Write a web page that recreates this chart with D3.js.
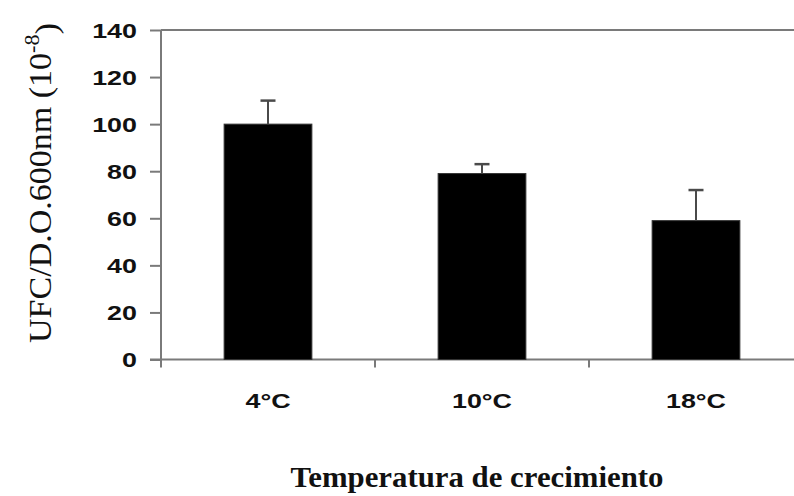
<!DOCTYPE html>
<html>
<head>
<meta charset="utf-8">
<script src="https://cdn.jsdelivr.net/npm/d3@7"></script>
<style>
  html, body { margin: 0; padding: 0; background: #fff; }
  svg { display: block; }
</style>
</head>
<body>
<svg id="chart" width="794" height="496"></svg>
<script>
// Colony counts per optical density at each growth temperature
const categories = ["4°C", "10°C", "18°C"];
const means = [100, 79, 59];
const errors = [10, 4, 13];
const yTicks = [0, 20, 40, 60, 80, 100, 120, 140];

const svg = d3.select("#chart");
const plotLeft = 161, plotRight = 803, plotTop = 30, plotBottom = 359.5;

const x = d3.scaleBand().domain(categories).range([plotLeft, plotRight]).padding(0);
const y = d3.scaleLinear().domain([0, 140]).range([plotBottom, plotTop]);

const axisColor = "#7a7a7a";
const textColor = "#111";
const stretch = 1.28;
const barWidth = x.bandwidth() * 0.41;

// plot frame (top edge)
svg.append("line")
  .attr("x1", plotLeft).attr("x2", plotRight)
  .attr("y1", y(140)).attr("y2", y(140))
  .attr("stroke", axisColor).attr("stroke-width", 2);

// y axis
const yAxis = svg.append("g")
  .attr("transform", `translate(${plotLeft},0)`)
  .call(d3.axisLeft(y).tickValues(yTicks).tickSize(11).tickSizeOuter(0).tickPadding(0));
yAxis.select(".domain").attr("stroke", axisColor).attr("stroke-width", 2)
  .attr("d", `M0,${y(140)}V${plotBottom + 8}`);
yAxis.selectAll(".tick line").attr("stroke", axisColor).attr("stroke-width", 2);
yAxis.selectAll(".tick text")
  .attr("x", 0).attr("dy", "0.35em")
  .attr("transform", `translate(-24,0) scale(${stretch},1)`)
  .attr("fill", textColor)
  .style("font-family", "'Liberation Sans', Arial, sans-serif")
  .style("font-weight", "bold").style("font-size", "21px");

// x axis: baseline, boundary ticks, centred labels
svg.append("line")
  .attr("x1", plotLeft - 11).attr("x2", plotRight)
  .attr("y1", plotBottom).attr("y2", plotBottom)
  .attr("stroke", axisColor).attr("stroke-width", 2);
const boundaries = categories.slice(1).map(c => x(c));
svg.selectAll("line.xtick").data(boundaries).enter().append("line")
  .attr("class", "xtick")
  .attr("x1", d => d).attr("x2", d => d)
  .attr("y1", plotBottom).attr("y2", plotBottom + 8)
  .attr("stroke", axisColor).attr("stroke-width", 2);

const xAxis = svg.append("g")
  .attr("transform", `translate(0,${plotBottom})`)
  .call(d3.axisBottom(x).tickSize(0).tickPadding(0));
xAxis.select(".domain").remove();
xAxis.selectAll(".tick text")
  .attr("y", 0).attr("dy", 0)
  .attr("transform", `translate(0,48.5) scale(${stretch},1)`)
  .attr("fill", textColor)
  .style("font-family", "'Liberation Sans', Arial, sans-serif")
  .style("font-weight", "bold").style("font-size", "21px");

// bars
svg.selectAll("rect.bar").data(categories).enter().append("rect")
  .attr("class", "bar")
  .attr("x", d => x(d) + (x.bandwidth() - barWidth) / 2)
  .attr("width", barWidth)
  .attr("y", (d, i) => y(means[i]))
  .attr("height", (d, i) => y(0) - y(means[i]))
  .attr("fill", "#000")
  .attr("stroke", "#333").attr("stroke-width", 1);

// upper error bars
const errG = svg.append("g");
categories.forEach((c, i) => {
  const cx = x(c) + x.bandwidth() / 2;
  errG.append("line")
    .attr("x1", cx).attr("x2", cx)
    .attr("y1", y(means[i])).attr("y2", y(means[i] + errors[i]))
    .attr("stroke", "#4a4a4a").attr("stroke-width", 2);
  errG.append("line")
    .attr("x1", cx - 7.5).attr("x2", cx + 7.5)
    .attr("y1", y(means[i] + errors[i])).attr("y2", y(means[i] + errors[i]))
    .attr("stroke", "#4a4a4a").attr("stroke-width", 2.5);
});

// y axis title
const yTitle = svg.append("text")
  .attr("transform", "translate(51,183) rotate(-90) scale(1,1.25)")
  .attr("text-anchor", "middle")
  .attr("textLength", 320)
  .attr("lengthAdjust", "spacingAndGlyphs")
  .attr("fill", textColor)
  .style("font-family", "'Liberation Serif', 'Times New Roman', serif")
  .style("font-size", "26px");
yTitle.append("tspan").text("UFC/D.O.600nm (10");
yTitle.append("tspan").attr("dy", "-0.55em").style("font-size", "17px").text("-8");
yTitle.append("tspan").attr("dy", "0.55em").text(")");

// x axis title
svg.append("text")
  .attr("x", 477).attr("y", 487)
  .attr("text-anchor", "middle")
  .attr("textLength", 373)
  .attr("lengthAdjust", "spacingAndGlyphs")
  .attr("fill", textColor)
  .style("font-family", "'Liberation Serif', 'Times New Roman', serif")
  .style("font-weight", "bold")
  .style("font-size", "30px")
  .text("Temperatura de crecimiento");
</script>
</body>
</html>
